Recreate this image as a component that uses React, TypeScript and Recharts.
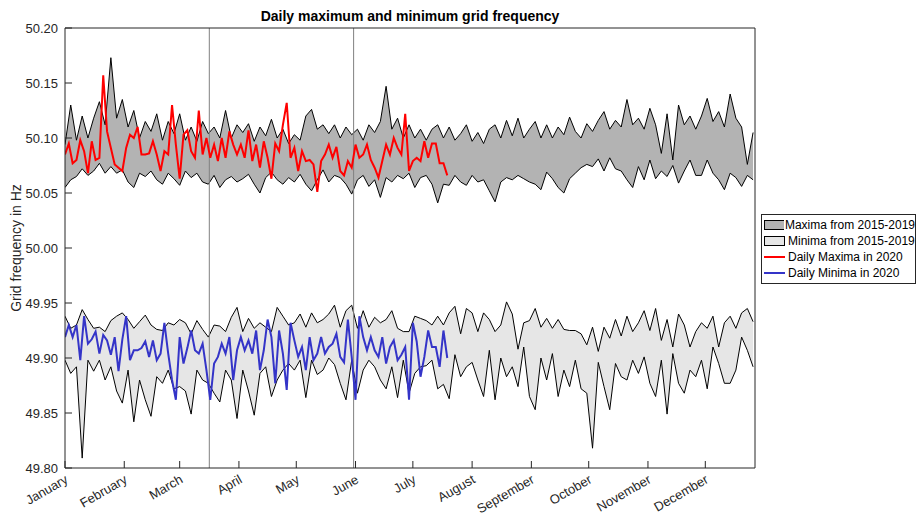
import React from 'react';
import { ComposedChart, Area, Line, XAxis, YAxis, ReferenceLine, Legend } from 'recharts';

const font = 'Liberation Sans, Arial, Helvetica, sans-serif';

// x grid: day of year (leap year 2020), bands sampled every 3 days, 2020 lines every 2 days
const bandDays = Array.from({ length: 121 }, (_, i) => i * 3);
const lineDays = Array.from({ length: 101 }, (_, i) => i * 2);

const monthStarts = [0, 31, 60, 91, 121, 152, 182, 213, 244, 274, 305, 335];
const monthNames = ['January', 'February', 'March', 'April', 'May', 'June', 'July', 'August', 'September', 'October', 'November', 'December'];
const freqTicks = [49.8, 49.85, 49.9, 49.95, 50.0, 50.05, 50.1, 50.15, 50.2];
const markerDays = [75.5, 151];

// upper / lower edge of the daily maxima 2015-2019
const maxHi = [
  50.094, 50.130, 50.098, 50.120, 50.100, 50.118, 50.133, 50.112, 50.173, 50.118,
  50.135, 50.110, 50.125, 50.100, 50.115, 50.106, 50.122, 50.098, 50.115, 50.104,
  50.122, 50.098, 50.110, 50.097, 50.115, 50.104, 50.110, 50.100, 50.125, 50.100,
  50.112, 50.105, 50.113, 50.097, 50.110, 50.102, 50.117, 50.100, 50.108, 50.095,
  50.103, 50.098, 50.120, 50.126, 50.108, 50.112, 50.104, 50.112, 50.100, 50.110,
  50.103, 50.108, 50.098, 50.112, 50.105, 50.115, 50.147, 50.108, 50.118, 50.100,
  50.112, 50.100, 50.108, 50.098, 50.108, 50.112, 50.100, 50.110, 50.098, 50.104,
  50.112, 50.097, 50.105, 50.095, 50.108, 50.112, 50.100, 50.116, 50.102, 50.118,
  50.100, 50.108, 50.115, 50.100, 50.112, 50.100, 50.110, 50.103, 50.119, 50.106,
  50.100, 50.113, 50.106, 50.116, 50.124, 50.108, 50.116, 50.110, 50.135, 50.112,
  50.118, 50.108, 50.127, 50.112, 50.086, 50.122, 50.080, 50.130, 50.112, 50.120,
  50.108, 50.120, 50.136, 50.115, 50.124, 50.110, 50.140, 50.118, 50.110, 50.076,
  50.105,
];
const maxLo = [
  50.055, 50.062, 50.065, 50.072, 50.066, 50.070, 50.077, 50.068, 50.074, 50.068,
  50.071, 50.060, 50.055, 50.068, 50.065, 50.070, 50.062, 50.058, 50.068, 50.063,
  50.057, 50.070, 50.064, 50.068, 50.060, 50.058, 50.066, 50.055, 50.062, 50.065,
  50.060, 50.063, 50.067, 50.058, 50.050, 50.064, 50.069, 50.062, 50.058, 50.064,
  50.060, 50.067, 50.058, 50.052, 50.062, 50.071, 50.060, 50.066, 50.064, 50.058,
  50.049, 50.062, 50.066, 50.056, 50.062, 50.046, 50.064, 50.060, 50.066, 50.063,
  50.068, 50.055, 50.064, 50.066, 50.058, 50.041, 50.058, 50.057, 50.066, 50.060,
  50.057, 50.066, 50.060, 50.062, 50.052, 50.042, 50.060, 50.064, 50.062, 50.066,
  50.063, 50.060, 50.058, 50.053, 50.069, 50.063, 50.055, 50.050, 50.063, 50.068,
  50.073, 50.076, 50.074, 50.081, 50.070, 50.082, 50.072, 50.070, 50.062, 50.055,
  50.074, 50.062, 50.080, 50.063, 50.070, 50.065, 50.075, 50.059, 50.070, 50.080,
  50.066, 50.066, 50.080, 50.068, 50.062, 50.053, 50.068, 50.064, 50.056, 50.066,
  50.062,
];

// upper / lower edge of the daily minima 2015-2019
const minHi = [
  49.938, 49.927, 49.930, 49.944, 49.935, 49.927, 49.928, 49.924, 49.934, 49.938,
  49.941, 49.935, 49.927, 49.933, 49.939, 49.930, 49.926, 49.925, 49.932, 49.930,
  49.935, 49.932, 49.922, 49.934, 49.926, 49.919, 49.930, 49.929, 49.924, 49.937,
  49.946, 49.924, 49.936, 49.927, 49.932, 49.928, 49.924, 49.946, 49.938, 49.930,
  49.932, 49.940, 49.928, 49.941, 49.932, 49.935, 49.940, 49.948, 49.928, 49.943,
  49.948, 49.927, 49.943, 49.928, 49.937, 49.932, 49.935, 49.943, 49.927, 49.924,
  49.924, 49.938, 49.936, 49.934, 49.930, 49.938, 49.930, 49.941, 49.947, 49.922,
  49.945, 49.941, 49.924, 49.941, 49.935, 49.924, 49.930, 49.951, 49.940, 49.908,
  49.932, 49.934, 49.945, 49.928, 49.936, 49.927, 49.935, 49.926, 49.925, 49.925,
  49.922, 49.912, 49.928, 49.906, 49.928, 49.918, 49.935, 49.920, 49.938, 49.924,
  49.932, 49.943, 49.925, 49.945, 49.916, 49.935, 49.910, 49.940, 49.930, 49.910,
  49.924, 49.932, 49.927, 49.938, 49.910, 49.932, 49.938, 49.927, 49.941, 49.945,
  49.933,
];
const minLo = [
  49.898, 49.886, 49.892, 49.809, 49.898, 49.888, 49.898, 49.880, 49.892, 49.870,
  49.859, 49.889, 49.842, 49.880, 49.862, 49.847, 49.883, 49.877, 49.889, 49.872,
  49.874, 49.870, 49.849, 49.889, 49.880, 49.877, 49.868, 49.860, 49.889, 49.880,
  49.845, 49.889, 49.870, 49.848, 49.886, 49.892, 49.865, 49.880, 49.889, 49.895,
  49.889, 49.898, 49.864, 49.898, 49.885, 49.889, 49.900, 49.894, 49.877, 49.862,
  49.898, 49.868, 49.889, 49.898, 49.892, 49.880, 49.872, 49.892, 49.864, 49.898,
  49.868, 49.886, 49.892, 49.893, 49.898, 49.872, 49.876, 49.863, 49.903, 49.883,
  49.892, 49.896, 49.880, 49.865, 49.907, 49.862, 49.900, 49.883, 49.892, 49.874,
  49.910, 49.865, 49.853, 49.900, 49.880, 49.904, 49.865, 49.889, 49.874, 49.898,
  49.872, 49.868, 49.818, 49.896, 49.874, 49.853, 49.895, 49.883, 49.880, 49.898,
  49.886, 49.901, 49.877, 49.865, 49.898, 49.849, 49.904, 49.877, 49.868, 49.889,
  49.883, 49.898, 49.872, 49.910, 49.895, 49.877, 49.877, 49.889, 49.919, 49.907,
  49.892,
];

// 2020 daily maxima / minima (Jan - late July)
const max2020 = [
  50.085, 50.095, 50.077, 50.080, 50.098, 50.088, 50.068, 50.097, 50.080, 50.082,
  50.157, 50.106, 50.091, 50.076, 50.073, 50.070, 50.091, 50.103, 50.100, 50.110,
  50.085, 50.085, 50.086, 50.097, 50.085, 50.070, 50.088, 50.085, 50.130, 50.094,
  50.063, 50.103, 50.107, 50.088, 50.082, 50.125, 50.085, 50.100, 50.082, 50.094,
  50.079, 50.100, 50.082, 50.106, 50.094, 50.085, 50.094, 50.082, 50.107, 50.079,
  50.094, 50.073, 50.097, 50.082, 50.063, 50.095, 50.088, 50.112, 50.132, 50.082,
  50.091, 50.070, 50.088, 50.079, 50.080, 50.076, 50.051, 50.079, 50.085, 50.094,
  50.082, 50.092, 50.070, 50.066, 50.079, 50.073, 50.094, 50.082, 50.085, 50.094,
  50.080, 50.073, 50.064, 50.079, 50.094, 50.085, 50.100, 50.091, 50.085, 50.122,
  50.070, 50.079, 50.082, 50.079, 50.097, 50.082, 50.095, 50.095, 50.077, 50.077,
  50.066,
];
const min2020 = [
  49.919, 49.930, 49.919, 49.930, 49.898, 49.938, 49.913, 49.917, 49.924, 49.904,
  49.921, 49.916, 49.903, 49.919, 49.888, 49.917, 49.938, 49.898, 49.907, 49.907,
  49.909, 49.915, 49.901, 49.916, 49.898, 49.904, 49.932, 49.904, 49.880, 49.862,
  49.919, 49.895, 49.909, 49.925, 49.907, 49.904, 49.913, 49.889, 49.862, 49.895,
  49.901, 49.913, 49.904, 49.919, 49.880, 49.907, 49.919, 49.907, 49.916, 49.904,
  49.925, 49.889, 49.907, 49.935, 49.919, 49.877, 49.925, 49.904, 49.871, 49.932,
  49.916, 49.901, 49.910, 49.889, 49.919, 49.898, 49.904, 49.919, 49.904, 49.910,
  49.913, 49.922, 49.901, 49.896, 49.935, 49.901, 49.862, 49.938, 49.919, 49.907,
  49.919, 49.907, 49.901, 49.919, 49.895, 49.910, 49.916, 49.898, 49.903, 49.910,
  49.862, 49.932, 49.915, 49.883, 49.901, 49.925, 49.910, 49.910, 49.892, 49.925,
  49.900,
];

const legendItems = [
  { label: 'Maxima from 2015-2019', kind: 'patch', color: '#b3b3b3' },
  { label: 'Minima from 2015-2019', kind: 'patch', color: '#e6e6e6' },
  { label: 'Daily Maxima in 2020', kind: 'line', color: '#ff0000' },
  { label: 'Daily Minima in 2020', kind: 'line', color: '#3434c8' },
];

const bandRows = bandDays.map((day, i) => ({
  day,
  maxBand: [maxLo[i], maxHi[i]],
  minBand: [minLo[i], minHi[i]],
}));
const lineRows = lineDays.map((day, i) => ({ day, max: max2020[i], min: min2020[i] }));

const axisColor = '#262626';

const MonthTick = (props: any) => {
  const { x, y, payload } = props;
  const idx = monthStarts.indexOf(payload.value);
  const ax = x + 4;
  const ay = y + 14;
  return (
    <text x={ax} y={ay} textAnchor="end" transform={`rotate(-30, ${ax}, ${ay})`} fill={axisColor} fontSize={13} fontFamily={font}>
      {monthNames[idx]}
    </text>
  );
};

const YLabel = (props: any) => {
  const { viewBox } = props;
  const cx = 16;
  const cy = viewBox.y + viewBox.height / 2;
  return (
    <text x={cx} y={cy} transform={`rotate(-90, ${cx}, ${cy})`} textAnchor="middle" dominantBaseline="central" fill={axisColor} fontSize={14} fontFamily={font}>
      Grid frequency in Hz
    </text>
  );
};

const LegendBox = () => (
  <div style={{ border: `1px solid ${axisColor}`, background: '#fff', padding: '2px 0', width: 155, fontSize: 12, fontFamily: font, color: '#000', boxSizing: 'border-box' }}>
    {legendItems.map((it) => (
      <div key={it.label} style={{ display: 'flex', alignItems: 'center', height: 16 }}>
        <svg width={24} height={12} style={{ marginLeft: 1, marginRight: 1 }}>
          {it.kind === 'patch' ? (
            <rect x={1.5} y={1.5} width={20} height={9} fill={it.color} stroke="#000" strokeWidth={1} />
          ) : (
            <line x1={1} x2={22} y1={6} y2={6} stroke={it.color} strokeWidth={2} />
          )}
        </svg>
        <span style={{ whiteSpace: 'nowrap' }}>{it.label}</span>
      </div>
    ))}
  </div>
);

export default function App() {
  return (
    <div style={{ position: 'absolute', left: 0, top: 0, width: 920, height: 517, background: '#fff' }}>
      <div style={{ position: 'absolute', left: 65, top: 8, width: 690, textAlign: 'center', fontFamily: font, fontWeight: 'bold', fontSize: 14, color: '#000' }}>
        Daily maximum and minimum grid frequency
      </div>
      <ComposedChart width={920} height={517} data={bandRows} margin={{ top: 27, right: 164, bottom: 9, left: 0 }}>
        <XAxis
          dataKey="day"
          type="number"
          domain={[0, 361]}
          ticks={monthStarts}
          interval={0}
          allowDataOverflow
          height={40}
          tickSize={-7}
          tickMargin={7}
          tick={<MonthTick />}
          stroke={axisColor}
        />
        <XAxis
          xAxisId="top"
          dataKey="day"
          type="number"
          orientation="top"
          domain={[0, 361]}
          ticks={monthStarts}
          interval={0}
          allowDataOverflow
          height={1}
          tickSize={-7}
          tick={false}
          stroke={axisColor}
        />
        <YAxis
          type="number"
          domain={[49.8, 50.2]}
          ticks={freqTicks}
          interval={0}
          allowDataOverflow
          width={65}
          tickSize={-7}
          tickMargin={14}
          tickFormatter={(v: number) => v.toFixed(2)}
          tick={{ fill: axisColor, fontSize: 13, fontFamily: font }}
          stroke={axisColor}
          label={<YLabel />}
        />
        <YAxis
          yAxisId="right"
          orientation="right"
          type="number"
          domain={[49.8, 50.2]}
          ticks={freqTicks}
          interval={0}
          allowDataOverflow
          width={1}
          tickSize={-7}
          tick={false}
          stroke={axisColor}
        />
        <Area dataKey="maxBand" type="linear" stroke="#000" strokeWidth={1} fill="#b3b3b3" fillOpacity={1} dot={false} activeDot={false} isAnimationActive={false} />
        <Area dataKey="minBand" type="linear" stroke="#000" strokeWidth={1} fill="#e6e6e6" fillOpacity={1} dot={false} activeDot={false} isAnimationActive={false} />
        {markerDays.map((d) => (
          <ReferenceLine key={d} x={d} stroke="#808080" strokeWidth={1} />
        ))}
        <Line data={lineRows} dataKey="max" type="linear" stroke="#ff0000" strokeWidth={2} dot={false} activeDot={false} isAnimationActive={false} />
        <Line data={lineRows} dataKey="min" type="linear" stroke="#3434c8" strokeWidth={2} dot={false} activeDot={false} isAnimationActive={false} />
        <Legend layout="vertical" align="center" verticalAlign="middle" content={<LegendBox />} wrapperStyle={{ position: 'absolute', left: 761, top: 214, width: 157 }} />
      </ComposedChart>
    </div>
  );
}
